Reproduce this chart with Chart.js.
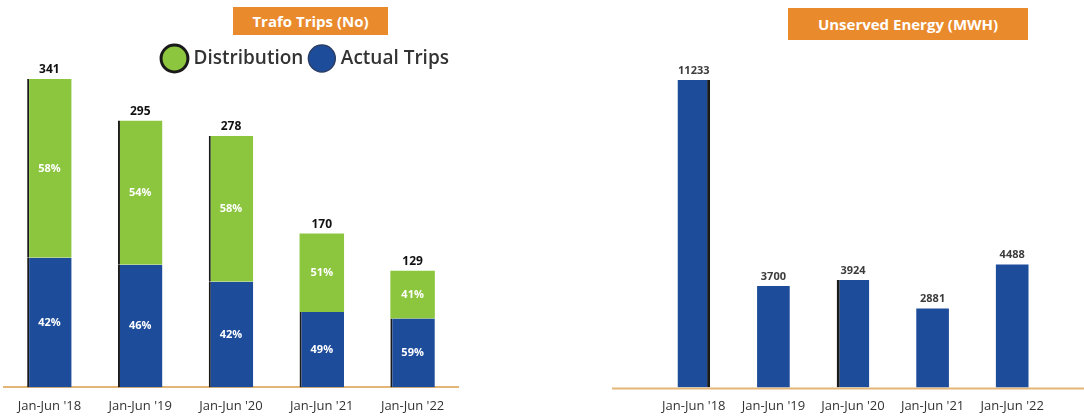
<!DOCTYPE html>
<html>
<head>
<meta charset="utf-8">
<script src="https://cdn.jsdelivr.net/npm/chart.js@4.4.1/dist/chart.umd.min.js"></script>
<style>
  html, body { margin: 0; padding: 0; background: #ffffff; }
  #wrap { position: relative; width: 1084px; height: 417px; overflow: hidden; background: #ffffff; }
  .panel { position: absolute; top: 0; height: 417px; }
  .title-box {
    position: absolute; background: #e98a2c; color: #ffffff;
    font-family: 'Open Sans', sans-serif; font-weight: 700; font-size: 15px;
    display: flex; align-items: center; justify-content: center; white-space: nowrap;
  }
</style>
</head>
<body>
<div id="wrap">
  <div class="panel" style="left:0;width:470px;"><canvas id="tripsChart" width="470" height="417"></canvas></div>
  <div class="panel" style="left:540px;width:544px;"><canvas id="energyChart" width="544" height="417"></canvas></div>
  <div class="title-box" style="left:233px;top:7px;width:155px;height:28px;">Trafo Trips (No)</div>
  <div class="title-box" style="left:788px;top:8px;width:240px;height:32px;">Unserved Energy (MWH)</div>
</div>
<script>
// Half-year periods
const categories = ["Jan-Jun '18", "Jan-Jun '19", "Jan-Jun '20", "Jan-Jun '21", "Jan-Jun '22"];
// Trafo trips: totals and the share of each component (%)
const totalTrips = [341, 295, 278, 170, 129];
const actualTripsPct = [42, 46, 42, 49, 59];
const distributionPct = [58, 54, 58, 51, 41];
// Unserved energy (MWH)
const unservedEnergy = [11233, 3700, 3924, 2881, 4488];

const GREEN = '#8cc63f';
const BLUE = '#1d4c9b';
const AXIS = '#e3b677';

Chart.defaults.font.family = "'Open Sans', sans-serif";
Chart.defaults.animation = false;

const actualTrips = totalTrips.map((t, i) => t * actualTripsPct[i] / 100);
const distributionTrips = totalTrips.map((t, i) => t * distributionPct[i] / 100);

const tripLabels = {
  id: 'tripLabels',
  afterDatasetsDraw(chart) {
    const ctx = chart.ctx;
    const metaActual = chart.getDatasetMeta(0);
    const metaDist = chart.getDatasetMeta(1);
    ctx.save();
    ctx.textAlign = 'center';
    categories.forEach((c, i) => {
      const top = metaDist.data[i];
      ctx.fillStyle = '#111111';
      ctx.font = "700 12px 'Open Sans', sans-serif";
      ctx.textBaseline = 'bottom';
      ctx.fillText(String(totalTrips[i]), top.x, top.y - 3);
      ctx.fillStyle = '#ffffff';
      ctx.font = "700 11px 'Open Sans', sans-serif";
      ctx.textBaseline = 'middle';
      ctx.fillText(distributionPct[i] + '%', top.x, (top.y + top.base) / 2);
      const bot = metaActual.data[i];
      ctx.fillText(actualTripsPct[i] + '%', bot.x, (bot.y + bot.base) / 2);
    });
    ctx.restore();
  }
};

new Chart(document.getElementById('tripsChart'), {
  type: 'bar',
  data: {
    labels: categories,
    datasets: [
      {
        label: 'Actual Trips',
        data: actualTrips,
        backgroundColor: BLUE,
        borderColor: '#1a1a1a',
        borderWidth: { left: 2, top: 0, right: 0, bottom: 0 },
        borderSkipped: false,
        barPercentage: 0.49,
        categoryPercentage: 1
      },
      {
        label: 'Distribution',
        data: distributionTrips,
        backgroundColor: GREEN,
        borderColor: '#1a1a1a',
        borderWidth: (ctx) => ({ left: ctx.dataIndex < 3 ? 2 : 0, top: 0, right: 0, bottom: 0 }),
        borderSkipped: false,
        barPercentage: 0.49,
        categoryPercentage: 1
      }
    ]
  },
  options: {
    responsive: false,
    layout: { padding: { top: 40, left: 4, right: 12, bottom: 0 } },
    plugins: {
      legend: {
        position: 'top',
        align: 'end',
        reverse: true,
        labels: {
          usePointStyle: true,
          pointStyle: 'circle',
          color: '#333333',
          padding: 9,
          font: { size: 19, weight: '600' },
          generateLabels(chart) {
            const items = Chart.defaults.plugins.legend.labels.generateLabels(chart);
            return items.map(it => {
              if (it.text === 'Distribution') {
                it.fillStyle = GREEN; it.strokeStyle = '#1a1a1a'; it.lineWidth = 3;
              } else {
                it.fillStyle = BLUE; it.strokeStyle = '#2b3f66'; it.lineWidth = 1.5;
              }
              return it;
            });
          }
        }
      },
      tooltip: { enabled: false }
    },
    scales: {
      x: {
        stacked: true,
        grid: { display: false },
        border: { color: AXIS, width: 2 },
        ticks: { color: '#333333', font: { size: 13 }, padding: 3 }
      },
      y: {
        stacked: true,
        display: false,
        min: 0,
        max: 342
      }
    }
  },
  plugins: [tripLabels]
});

const energyLabels = {
  id: 'energyLabels',
  beforeDatasetsDraw(chart) {
    const ctx = chart.ctx;
    const y = chart.scales.y.getPixelForValue(0);
    ctx.save();
    ctx.strokeStyle = AXIS;
    ctx.lineWidth = 2;
    ctx.beginPath();
    ctx.moveTo(72, y + 1);
    ctx.lineTo(chart.width, y + 1);
    ctx.stroke();
    ctx.restore();
  },
  afterDatasetsDraw(chart) {
    const ctx = chart.ctx;
    const meta = chart.getDatasetMeta(0);
    ctx.save();
    ctx.textAlign = 'center';
    ctx.textBaseline = 'bottom';
    ctx.fillStyle = '#3c3c3c';
    ctx.font = "700 11px 'Open Sans', sans-serif";
    meta.data.forEach((el, i) => {
      ctx.fillText(String(unservedEnergy[i]), el.x, el.y - 4);
    });
    ctx.restore();
  }
};

new Chart(document.getElementById('energyChart'), {
  type: 'bar',
  data: {
    labels: categories,
    datasets: [{
      label: 'Unserved Energy (MWH)',
      data: unservedEnergy,
      backgroundColor: BLUE,
      borderColor: '#1a1a1a',
      borderWidth: (ctx) => ({
        left: ctx.dataIndex === 2 ? 3 : 0,
        right: ctx.dataIndex === 0 ? 3 : 0,
        top: 0, bottom: 0
      }),
      borderSkipped: false,
      barPercentage: 0.41,
      categoryPercentage: 1
    }]
  },
  options: {
    responsive: false,
    layout: { padding: { top: 60, left: 114, right: 32, bottom: 0 } },
    plugins: { legend: { display: false }, tooltip: { enabled: false } },
    scales: {
      x: {
        grid: { display: false },
        border: { display: false },
        ticks: { color: '#333333', font: { size: 13 }, padding: 3 }
      },
      y: { display: false, min: 0, max: 11960 }
    }
  },
  plugins: [energyLabels]
});
</script>
</body>
</html>
